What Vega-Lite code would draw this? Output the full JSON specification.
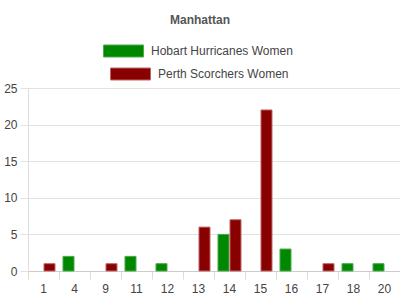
{
  "$schema": "https://vega.github.io/schema/vega-lite/v6.json",
  "width": 372,
  "height": 183,
  "autosize": {"type": "none"},
  "padding": {"left": 28, "top": 88, "right": 0, "bottom": 29},
  "background": "white",
  "title": {
    "text": "Manhattan",
    "anchor": "middle",
    "dx": -14,
    "fontSize": 12,
    "fontWeight": "bold",
    "color": "#555555",
    "font": "Liberation Sans"
  },
  "data": {
    "values": [
      {"over": 1, "team": "Perth Scorchers Women", "runs": 1},
      {"over": 4, "team": "Hobart Hurricanes Women", "runs": 2},
      {"over": 9, "team": "Perth Scorchers Women", "runs": 1},
      {"over": 11, "team": "Hobart Hurricanes Women", "runs": 2},
      {"over": 12, "team": "Hobart Hurricanes Women", "runs": 1},
      {"over": 13, "team": "Perth Scorchers Women", "runs": 6},
      {"over": 14, "team": "Hobart Hurricanes Women", "runs": 5},
      {"over": 14, "team": "Perth Scorchers Women", "runs": 7},
      {"over": 15, "team": "Perth Scorchers Women", "runs": 22},
      {"over": 16, "team": "Hobart Hurricanes Women", "runs": 3},
      {"over": 17, "team": "Perth Scorchers Women", "runs": 1},
      {"over": 18, "team": "Hobart Hurricanes Women", "runs": 1},
      {"over": 20, "team": "Hobart Hurricanes Women", "runs": 1}
    ]
  },
  "config": {
    "view": {"stroke": null},
    "font": "Liberation Sans",
    "axisY": {"title": null, "values": [0, 5, 10, 15, 20, 25], "labelOverlap": false, "grid": true, "gridColor": "#e2e2e2", "tickColor": "#e2e2e2", "tickSize": 8, "domainColor": "#dddddd", "labelPadding": 3, "labelFont": "Liberation Sans", "labelFontSize": 12, "labelColor": "#444444"},
    "legend": {"padding": 0, "labelFont": "Liberation Sans", "labelFontSize": 12, "labelColor": "#444444", "labelOffset": 7, "symbolSize": 1600, "symbolType": "M-1,-0.3L1,-0.3L1,0.3L-1,0.3Z", "symbolStrokeWidth": 1}
  },
  "resolve": {"axis": {"x": "independent"}},
  "layer": [
    {
      "transform": [{"filter": "datum.team === 'Hobart Hurricanes Women'"}],
      "mark": {"type": "bar", "stroke": "#4caa4c", "strokeWidth": 1},
      "encoding": {
        "x": {
          "field": "over", "type": "ordinal",
          "scale": {"domain": [1, 4, 9, 11, 12, 13, 14, 15, 16, 17, 18, 20], "paddingInner": 0, "paddingOuter": 0},
          "axis": {"orient": "bottom", "title": null, "labelAngle": 0, "ticks": false, "domain": false, "grid": false, "labelPadding": 12, "labelFont": "Liberation Sans", "labelFontSize": 12, "labelColor": "#444444"}
        },
        "xOffset": {
          "field": "team", "type": "nominal",
          "scale": {"domain": ["Hobart Hurricanes Women", "Perth Scorchers Women"], "paddingInner": 0.083, "paddingOuter": 0.333}
        },
        "y": {
          "field": "runs", "type": "quantitative",
          "scale": {"domain": [0, 25]},
          "axis": {"title": null, "values": [0, 5, 10, 15, 20, 25], "labelOverlap": false}
        },
        "color": {
          "field": "team", "type": "nominal",
          "scale": {"domain": ["Hobart Hurricanes Women"], "range": ["#008800"]},
          "legend": {"title": null, "orient": "none", "legendX": 75, "legendY": -57.5, "symbolStrokeColor": "#4caa4c"}
        }
      }
    },
    {
      "transform": [{"filter": "datum.team === 'Perth Scorchers Women'"}],
      "mark": {"type": "bar", "stroke": "#c06666", "strokeWidth": 1},
      "encoding": {
        "x": {
          "field": "over", "type": "ordinal",
          "scale": {"domain": [1, 4, 9, 11, 12, 13, 14, 15, 16, 17, 18, 20], "paddingInner": 0, "paddingOuter": 0},
          "axis": {"orient": "bottom", "title": null, "labels": false, "ticks": true, "bandPosition": 0, "tickSize": 8, "tickColor": "#dddddd", "domain": true, "domainColor": "#cccccc", "grid": false}
        },
        "xOffset": {
          "field": "team", "type": "nominal",
          "scale": {"domain": ["Hobart Hurricanes Women", "Perth Scorchers Women"], "paddingInner": 0.083, "paddingOuter": 0.333}
        },
        "y": {
          "field": "runs", "type": "quantitative",
          "scale": {"domain": [0, 25]},
          "axis": {"title": null, "values": [0, 5, 10, 15, 20, 25], "labelOverlap": false}
        },
        "fill": {
          "field": "team", "type": "nominal",
          "scale": {"domain": ["Perth Scorchers Women"], "range": ["#880000"]},
          "legend": {"title": null, "orient": "none", "legendX": 82, "legendY": -34.5, "symbolStrokeColor": "#c06666"}
        }
      }
    }
  ]
}
